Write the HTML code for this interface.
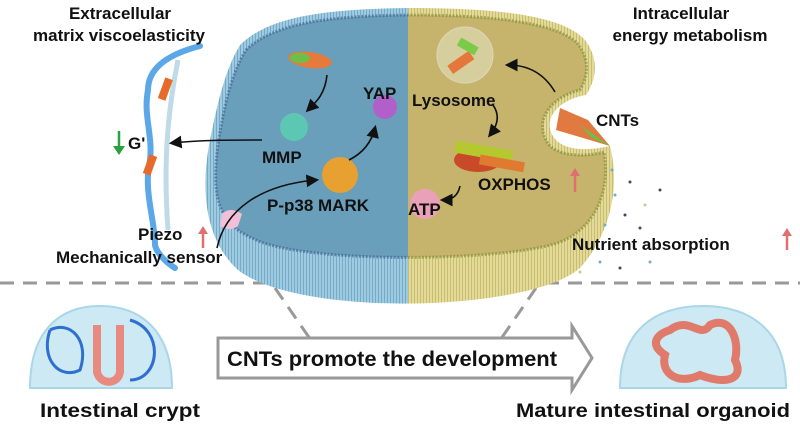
<!DOCTYPE html>
<html><head><meta charset="utf-8"><style>
body{margin:0;background:#fff;width:800px;height:424px;overflow:hidden}
svg{display:block}
.t{font-family:"Liberation Sans",sans-serif;font-weight:bold;fill:#111}
.n{font-family:"Liberation Sans Narrow","Liberation Sans",sans-serif;font-weight:bold;fill:#111}
</style></head><body>
<svg width="800" height="424" viewBox="0 0 800 424" xmlns="http://www.w3.org/2000/svg">
<defs>
<clipPath id="L"><rect x="0" y="0" width="408" height="424"/></clipPath>
<clipPath id="R"><rect x="408" y="0" width="400" height="424"/></clipPath>
<pattern id="sb" width="3" height="10" patternUnits="userSpaceOnUse"><rect width="3" height="10" fill="#9ccbe2"/><rect width="1" height="10" fill="#78a9c6"/></pattern>
<pattern id="sy" width="3" height="10" patternUnits="userSpaceOnUse"><rect width="3" height="10" fill="#e3da98"/><rect width="1" height="10" fill="#c8bd72"/></pattern>
<marker id="ah" markerWidth="8" markerHeight="8" refX="6" refY="4" orient="auto"><path d="M0,0 L8,4 L0,8 Z" fill="#111"/></marker>
<path id="outer" d="M240,45 C270,15 330,9 408,8 C480,8 560,12 585,40 C600,60 596,80 586,95 C556,100 540,122 556,140 C568,152 592,150 610,146 C620,185 612,232 580,268 C530,312 300,318 238,270 C205,240 200,190 210,140 C218,100 226,68 240,45 Z"/>
<path id="inner" d="M246,50 C275,22 332,16 408,15 C478,15 555,20 578,44 C590,60 588,76 580,90 C548,98 532,124 550,146 C564,158 590,156 604,152 C610,185 600,222 565,240 C520,262 300,265 252,238 C215,222 212,190 218,145 C224,105 232,72 246,50 Z"/>
</defs>
<g stroke="#999" stroke-width="3" stroke-dasharray="14,9" fill="none">
<line x1="0" y1="283" x2="268" y2="283"/>
<line x1="545" y1="283" x2="800" y2="283"/>
<line x1="275" y1="288" x2="337" y2="378"/>
<line x1="536" y1="288" x2="474" y2="378"/>
</g>
<g clip-path="url(#L)"><use href="#outer" fill="url(#sb)"/><use href="#inner" fill="#6a9fbc"/></g>
<g clip-path="url(#R)"><use href="#outer" fill="url(#sy)"/><use href="#inner" fill="#c6b46c"/></g>
<use href="#inner" fill="none" stroke="#3e5f8a" stroke-width="3" stroke-dasharray="2,1.5" opacity="0.6" clip-path="url(#L)"/>
<use href="#inner" fill="none" stroke="#7a8a30" stroke-width="3" stroke-dasharray="2,1.5" opacity="0.6" clip-path="url(#R)"/>
<ellipse cx="310" cy="60" rx="22" ry="8" fill="#e67a3a" transform="rotate(8 310 60)"/>
<ellipse cx="300" cy="58" rx="10" ry="5" fill="#6cc04a"/>
<circle cx="465" cy="55" r="28" fill="#e3e0c0" opacity="0.6" stroke="#eee"/>
<rect x="448" y="58" width="26" height="10" fill="#e5773a" transform="rotate(-35 460 63)"/>
<rect x="458" y="42" width="20" height="9" fill="#7bcb48" transform="rotate(30 468 46)"/>
<circle cx="294" cy="127" r="14" fill="#5cc8b4"/>
<circle cx="385" cy="107" r="12" fill="#b060c8"/>
<circle cx="340" cy="175" r="18" fill="#e8a030"/>
<ellipse cx="478" cy="160" rx="24" ry="12" fill="#c84a28"/>
<rect x="455" y="145" width="58" height="12" fill="#b5c830" transform="rotate(10 480 150)"/>
<rect x="480" y="158" width="45" height="10" fill="#e07a30" transform="rotate(10 500 160)"/>
<circle cx="425" cy="204" r="15" fill="#e9a0b8"/>
<path d="M560,108 L588,120 L610,146 L556,130 Z" fill="#e07a40"/>
<path d="M580,125 L610,146 L592,138 Z" fill="#6cc048"/>
<path d="M222,214 q8,-8 20,0 l-4,12 q-8,6 -18,0 Z" fill="#f1c0d8"/>
<path d="M200,46 C165,55 148,70 148,90 C143,115 153,135 150,160 C143,190 155,220 155,245 C157,255 170,265 175,268" stroke="#5ca7e8" stroke-width="6" fill="none" stroke-linecap="round"/>
<path d="M178,60 C168,110 163,160 168,230" stroke="#bfdbe8" stroke-width="5" fill="none"/>
<rect x="161" y="78" width="8" height="22" fill="#e86a2a" transform="rotate(20 165 90)"/>
<rect x="146" y="155" width="8" height="20" fill="#e86a2a" transform="rotate(20 150 165)"/>
<g stroke="#111" stroke-width="1.6" fill="none" marker-end="url(#ah)">
<path d="M327,75 C325,95 315,103 308,110"/>
<path d="M262,140 C230,140 200,140 172,143"/>
<path d="M349,160 C365,152 372,140 375,128"/>
<path d="M217,248 C225,210 260,185 316,180"/>
<path d="M555,92 C545,75 530,65 508,65"/>
<path d="M493,105 C500,115 498,125 490,135"/>
<path d="M460,186 C458,196 452,200 443,200"/>
</g>
<g stroke-width="2.5">
<line x1="119" y1="131" x2="119" y2="150" stroke="#2aa040"/><path d="M113,146 L119,155 L125,146 Z" fill="#2aa040"/>
<line x1="203" y1="248" x2="203" y2="230" stroke="#e07070"/><path d="M198,234 L203,226 L208,234 Z" fill="#e07070"/>
<line x1="575" y1="192" x2="575" y2="172" stroke="#e07070"/><path d="M570,176 L575,168 L580,176 Z" fill="#e07070"/>
<line x1="787" y1="250" x2="787" y2="232" stroke="#e07070"/><path d="M782,236 L787,228 L792,236 Z" fill="#e07070"/>
</g>
<g fill="#7ac">
<circle cx="612" cy="170" r="1.5"/><circle cx="630" cy="182" r="1.5" fill="#446"/><circle cx="615" cy="195" r="1.5"/><circle cx="645" cy="205" r="1.5" fill="#cc8"/><circle cx="625" cy="215" r="1.5" fill="#446"/><circle cx="605" cy="225" r="1.5"/><circle cx="660" cy="190" r="1.5" fill="#446"/><circle cx="640" cy="228" r="1.5" fill="#446"/><circle cx="600" cy="262" r="1.5"/><circle cx="620" cy="268" r="1.5" fill="#446"/><circle cx="580" cy="272" r="1.5" fill="#cc8"/><circle cx="650" cy="262" r="1.5"/>
</g>
<text class="t" x="120" y="19" font-size="17" text-anchor="middle">Extracellular</text>
<text class="t" x="119" y="41" font-size="17" text-anchor="middle">matrix viscoelasticity</text>
<text class="t" x="681" y="19" font-size="17" text-anchor="middle">Intracellular</text>
<text class="t" x="690" y="41" font-size="17" text-anchor="middle">energy metabolism</text>
<text class="t" x="363" y="99" font-size="17">YAP</text>
<text class="t" x="412" y="106" font-size="17">Lysosome</text>
<text class="t" x="596" y="126" font-size="17">CNTs</text>
<text class="t" x="128" y="149" font-size="17">G'</text>
<text class="t" x="262" y="163" font-size="17">MMP</text>
<text class="t" x="478" y="190" font-size="17">OXPHOS</text>
<text class="t" x="267" y="211" font-size="17">P-p38 MARK</text>
<text class="t" x="408" y="215" font-size="17">ATP</text>
<text class="t" x="138" y="240" font-size="17">Piezo</text>
<text class="t" x="56" y="263" font-size="17">Mechanically sensor</text>
<text class="t" x="572" y="250" font-size="17">Nutrient absorption</text>
<path d="M218,338 L572,338 L572,326 L592,358 L572,390 L572,378 L218,378 Z" fill="#fff" stroke="#999" stroke-width="3"/>
<text class="n" x="392" y="366" font-size="21" text-anchor="middle" textLength="330" lengthAdjust="spacingAndGlyphs">CNTs promote the development</text>
<path d="M30,388 C30,330 60,306 100,306 C140,306 172,330 172,388 Z" fill="#cde9f3" stroke="#a9d6e8" stroke-width="2"/>
<path d="M50,330 C40,360 60,380 80,370 C90,340 70,320 50,330 M130,320 C165,330 160,380 130,380" stroke="#2f6fd0" stroke-width="3" fill="none"/>
<path d="M97,325 L97,372 C100,385 118,385 120,372 L120,325" stroke="#e88a80" stroke-width="8" fill="none"/>
<path d="M620,388 C620,330 655,306 703,306 C750,306 786,330 786,388 Z" fill="#cde9f3" stroke="#a9d6e8" stroke-width="2"/>
<path d="M670,330 C690,315 700,340 710,325 C730,315 740,340 735,360 C745,380 725,385 700,375 C680,385 660,375 665,355 C650,345 655,335 670,330 Z" stroke="#e07a6a" stroke-width="8" fill="none"/>
<text class="n" x="120" y="417" font-size="19" text-anchor="middle" textLength="160" lengthAdjust="spacingAndGlyphs">Intestinal crypt</text>
<text class="n" x="653" y="417" font-size="19" text-anchor="middle" textLength="274" lengthAdjust="spacingAndGlyphs">Mature intestinal organoid</text>
</svg>
</body></html>
